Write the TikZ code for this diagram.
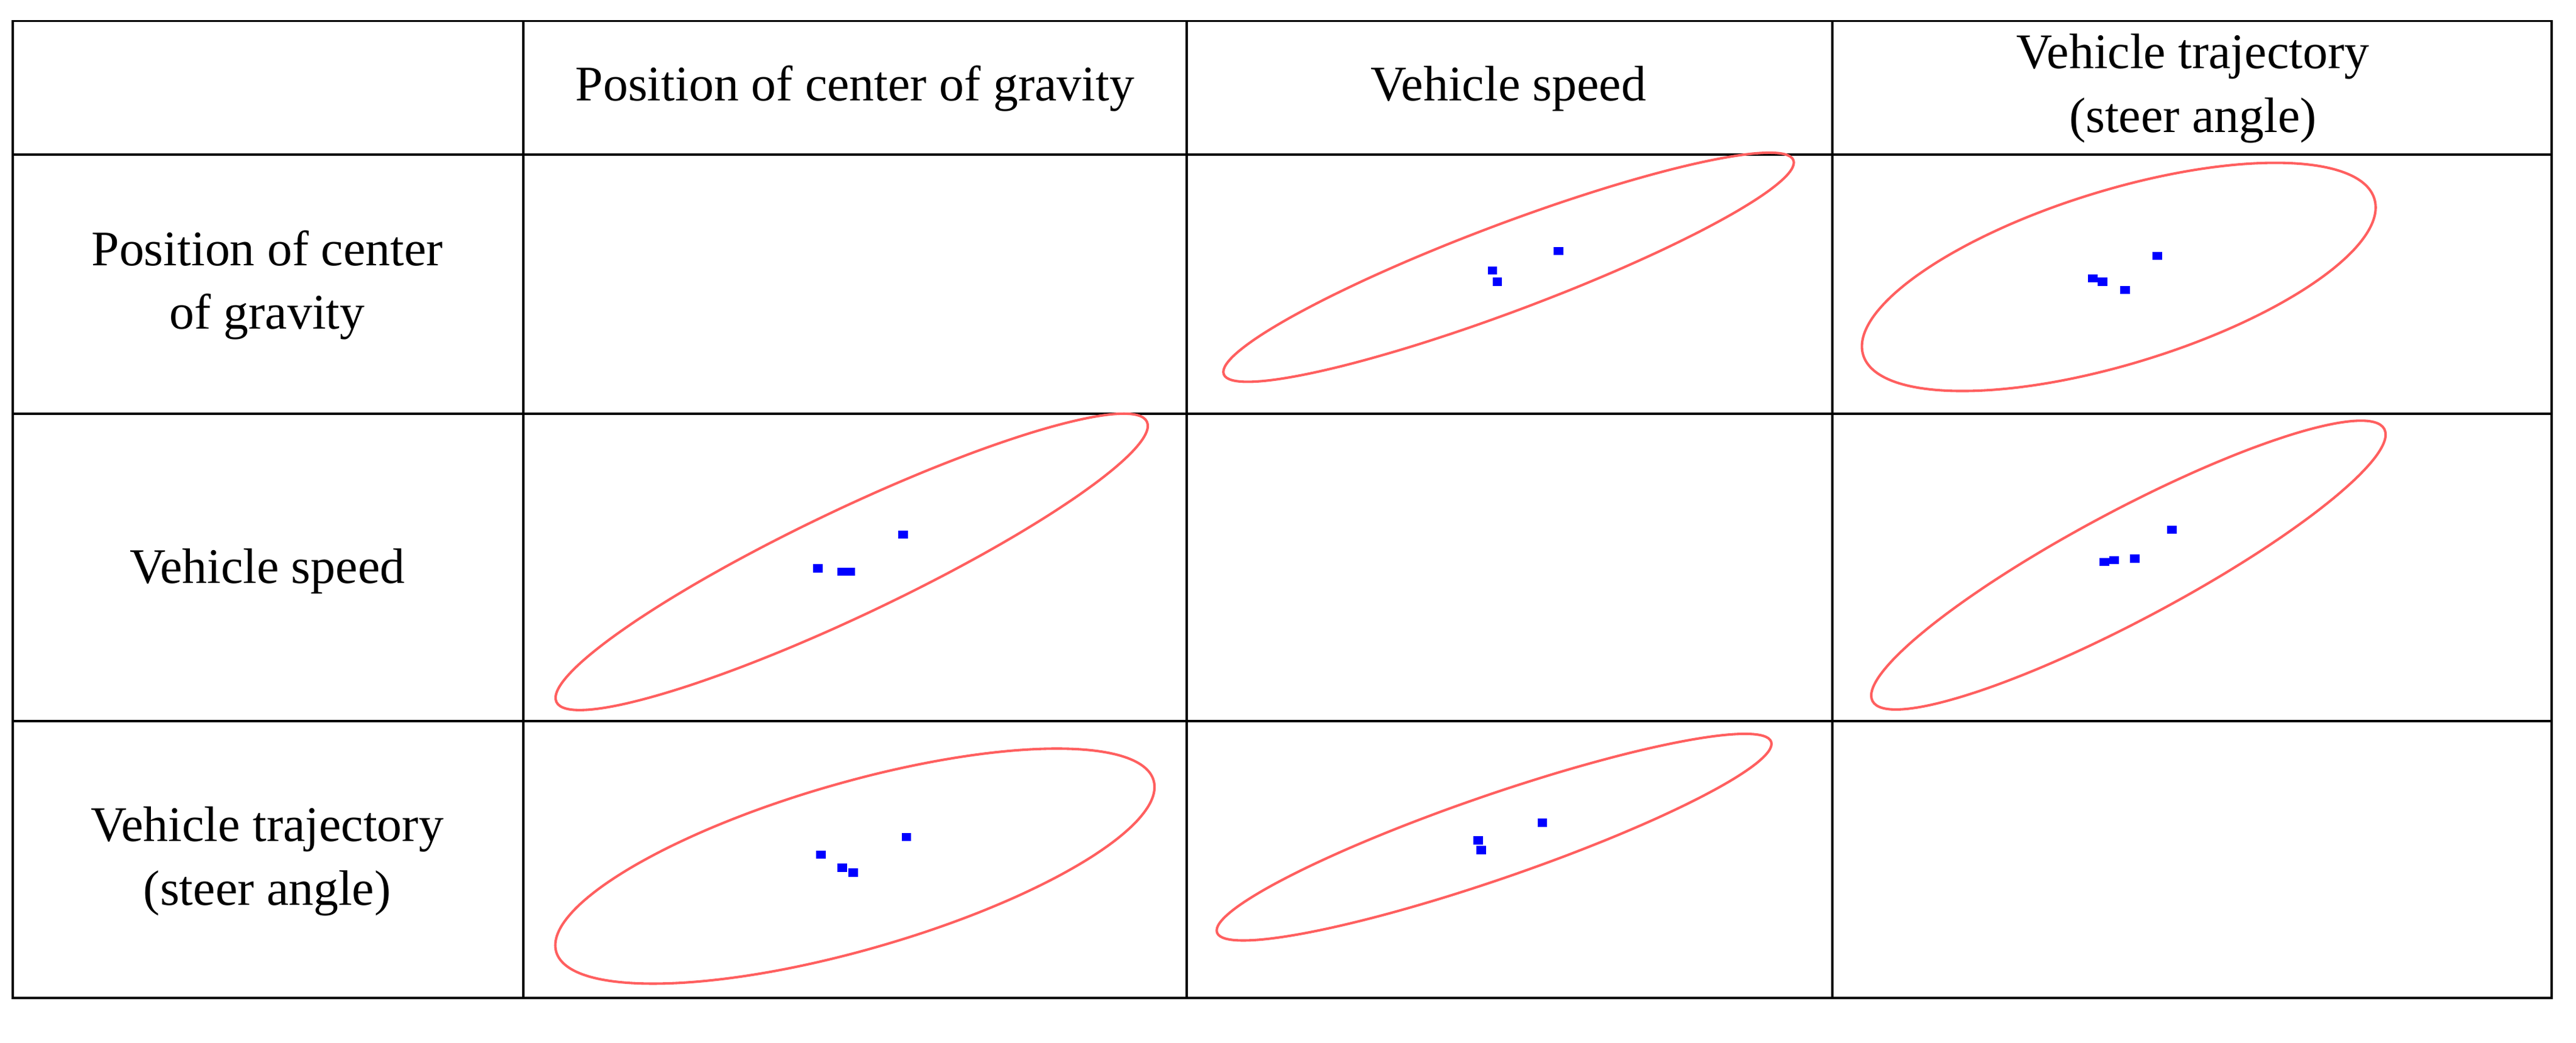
\documentclass[tikz,border=0pt]{standalone}
\usepackage{fontspec}
\setmainfont{Liberation Serif}
\begin{document}
\begin{tikzpicture}[x=0.025cm,y=-0.025cm,
  grid/.style={line width=1pt,black},
  ell/.style={draw={rgb,255:red,255;green,95;blue,95},line width=1.1pt},
  lbl/.style={align=center,font=\fontsize{22}{28}\selectfont}]
\useasboundingbox (0,0) rectangle (1600,647.5);
\draw[grid] (8,13) rectangle (1585,620);
\foreach \x in {325,737,1138} \draw[grid] (\x,13) -- (\x,620);
\foreach \y in {96,257,448} \draw[grid] (8,\y) -- (1585,\y);
\node[lbl] (h1) at (531,55) {Position of center of gravity};
\node[lbl] (h2) at (937,55) {Vehicle speed};
\node[lbl] (h3) at (1362,55) {Vehicle trajectory\\(steer angle)};
\node[lbl] (r1) at (166,177) {Position of center\\of gravity};
\node[lbl] (r2) at (166,355) {Vehicle speed};
\node[lbl] (r3) at (166,535) {Vehicle trajectory\\(steer angle)};
\draw[ell,rotate around={20.6:(937,166)}] (937,166) ellipse [x radius=189,y radius=27];
\draw[ell,rotate around={17:(1316,172)}] (1316,172) ellipse [x radius=166,y radius=54];
\draw[ell,rotate around={25.4:(529,349)}] (529,349) ellipse [x radius=203,y radius=33];
\draw[ell,rotate around={28:(1322,351)}] (1322,351) ellipse [x radius=180,y radius=34];
\draw[ell,rotate around={16:(531,538)}] (531,538) ellipse [x radius=193,y radius=52];
\draw[ell,rotate around={19:(928,520)}] (928,520) ellipse [x radius=182,y radius=26];
\foreach \p in {(927,168),(930,175),(968,156),
  (1300,173),(1306,175),(1320,180),(1340,159),
  (508,353),(523,355),(528,355),(561,332),
  (1307,349),(1313,348),(1326,347),(1349,329),
  (510,531),(523,539),(530,542),(563,520),
  (918,522),(920,528),(958,511)}
  \fill[blue] \p ++(-3,-2.5) rectangle ++(6,5);
\end{tikzpicture}
\end{document}
